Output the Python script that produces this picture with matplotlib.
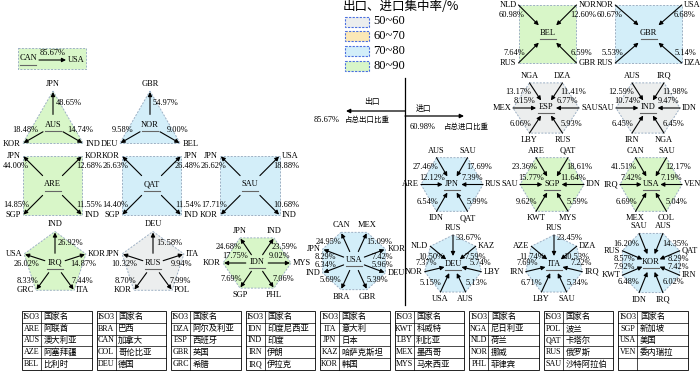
import numpy as np
import matplotlib
matplotlib.use('Agg')
import matplotlib.pyplot as plt
from matplotlib.patches import Polygon, Rectangle

# ------------------------------------------------------------------ data
export_countries = ['CAN', 'AUS', 'NOR', 'ARE', 'QAT', 'SAU', 'IRQ', 'RUS', 'IDN', 'USA']
export_partners = [
    ['USA'],
    ['JPN', 'IND', 'KOR'],
    ['GBR', 'BEL', 'DEU'],
    ['JPN', 'KOR', 'IND', 'SGP'],
    ['KOR', 'JPN', 'IND', 'SGP'],
    ['JPN', 'USA', 'IND', 'KOR'],
    ['IND', 'KOR', 'ITA', 'GRC', 'USA'],
    ['DEU', 'ITA', 'POL', 'KOR', 'JPN'],
    ['JPN', 'IND', 'MYS', 'PHL', 'SGP', 'KOR'],
    ['CAN', 'MEX', 'KOR', 'DEU', 'GBR', 'BRA', 'IND', 'JPN'],
]
export_shares = [
    [85.67],
    [48.65, 14.74, 18.48],
    [54.97, 9.00, 9.58],
    [44.00, 12.68, 11.55, 14.85],
    [26.63, 26.48, 11.54, 14.40],
    [26.62, 18.88, 10.68, 17.71],
    [26.92, 14.87, 7.44, 8.33, 26.02],
    [15.58, 9.94, 7.99, 8.70, 10.32],
    [24.68, 23.59, 9.02, 7.06, 7.69, 17.75],
    [24.95, 15.09, 7.42, 5.96, 5.39, 5.69, 6.34, 8.29],
]
import_countries = ['BEL', 'GBR', 'ESP', 'IND', 'JPN', 'SGP', 'USA', 'DEU', 'ITA', 'KOR']
import_partners = [
    ['NLD', 'NOR', 'GBR', 'RUS'],
    ['NOR', 'USA', 'DZA', 'RUS'],
    ['NGA', 'DZA', 'SAU', 'RUS', 'LBY', 'MEX'],
    ['AUS', 'IRQ', 'IDN', 'NGA', 'IRN', 'SAU'],
    ['AUS', 'SAU', 'RUS', 'QAT', 'IDN', 'ARE'],
    ['ARE', 'QAT', 'IDN', 'MYS', 'KWT', 'SAU'],
    ['CAN', 'SAU', 'VEN', 'COL', 'MEX', 'IRQ'],
    ['RUS', 'KAZ', 'LBY', 'AUS', 'USA', 'NOR', 'NLD'],
    ['RUS', 'DZA', 'IRQ', 'SAU', 'LBY', 'IRN', 'AZE'],
    ['SAU', 'AUS', 'QAT', 'IRN', 'IRQ', 'IDN', 'KWT', 'RUS'],
]
import_shares = [
    [60.98, 12.60, 6.59, 7.64],
    [60.67, 6.68, 5.14, 5.53],
    [13.17, 11.41, 6.77, 5.93, 6.06, 8.15],
    [12.59, 11.98, 9.47, 6.45, 6.45, 10.74],
    [27.46, 17.69, 7.39, 5.99, 6.54, 12.12],
    [23.36, 18.61, 11.64, 5.59, 9.62, 15.77],
    [41.51, 12.17, 7.19, 5.04, 6.69, 7.42],
    [33.67, 7.59, 5.74, 5.13, 5.15, 7.37, 10.50],
    [23.45, 10.53, 7.22, 5.34, 6.71, 7.69, 11.74],
    [16.20, 14.35, 8.29, 7.42, 6.02, 6.48, 7.92, 8.57],
]
class_labels = ['50~60', '60~70', '70~80', '80~90']
class_edges = [50, 60, 70, 80, 90]
legend_title = '出口、进口集中率/%'

table_iso3 = [
    ['ARE', 'AUS', 'AZE', 'BEL'], ['BRA', 'CAN', 'COL', 'DEU'],
    ['DZA', 'ESP', 'GBR', 'GRC'], ['IDN', 'IND', 'IRN', 'IRQ'],
    ['ITA', 'JPN', 'KAZ', 'KOR'], ['KWT', 'LBY', 'MEX', 'MYS'],
    ['NGA', 'NLD', 'NOR', 'PHL'], ['POL', 'QAT', 'RUS', 'SAU'],
    ['SGP', 'USA', 'VEN', ''],
]
table_names = [
    ['阿联酋', '澳大利亚', '阿塞拜疆', '比利时'], ['巴西', '加拿大', '哥伦比亚', '德国'],
    ['阿尔及利亚', '西班牙', '英国', '希腊'], ['印度尼西亚', '印度', '伊朗', '伊拉克'],
    ['意大利', '日本', '哈萨克斯坦', '韩国'], ['科威特', '利比亚', '墨西哥', '马来西亚'],
    ['尼日利亚', '荷兰', '挪威', '菲律宾'], ['波兰', '卡塔尔', '俄罗斯', '沙特阿拉伯'],
    ['新加坡', '美国', '委内瑞拉', ''],
]

# ------------------------------------------------------------------ layout (pixels)
class_colors = ['#eceeee', '#fce8b6', '#d3eef9', '#d8f6c8']
EDGE = '#9db0c4'
# centre x, centre y, radius x, radius y, angle of first vertex
export_layout = [
    None,
    (53, 126, 35, 35, 90),
    (150, 126, 35, 35, 90),
    (52.5, 185.5, 42.4, 42.4, 135),
    (151.5, 185.5, 42.4, 42.4, 135),
    (250, 185.5, 42.4, 42.4, 135),
    (55, 264, 32.5, 32.5, 90),
    (153, 264, 32.5, 32.5, 90),
    (257, 263, 34, 29, 120),
    (354, 261, 34, 31, 112.5),
]
import_layout = [
    (547.5, 34, 41, 41, 135),
    (648.5, 34, 47, 41, 135),
    (546, 108, 33, 29, 120),
    (648, 108, 32, 29, 120),
    (452, 184.5, 31, 31, 120),
    (552, 184.5, 32, 31, 120),
    (651, 184.5, 31, 31, 120),
    (453, 265, 29, 30, 90),
    (554, 265, 29, 30, 90),
    (651, 263, 31, 32, 112.5),
]

LAT = ['Liberation Serif', 'Noto Sans CJK SC']
CJK = ['Noto Sans CJK SC', 'Liberation Serif']
FS_LAB = 6.0
FS_PCT = 6.0

fig = plt.figure(figsize=(7.0, 3.72), dpi=100)
ax = fig.add_axes([0, 0, 1, 1])
ax.set_xlim(0, 700)
ax.set_ylim(372, 0)
ax.axis('off')


def class_color(total):
    idx = int(np.searchsorted(class_edges, total, side='right')) - 1
    idx = min(max(idx, 0), len(class_colors) - 1)
    return class_colors[idx]


def arrow(x0, y0, x1, y1, lw=0.8, ms=6):
    ax.annotate('', xy=(x1, y1), xytext=(x0, y0),
                arrowprops=dict(arrowstyle='-|>', color='k', lw=lw,
                                mutation_scale=ms, shrinkA=0, shrinkB=0),
                zorder=4)


def txt(x, y, s, ha='center', fs=FS_LAB, fam=LAT):
    ax.text(x, y, s, ha=ha, va='center', fontsize=fs, family=fam, zorder=5)


def centre_label(x, y, name):
    txt(x, y - 1, name)
    ax.plot([x - 8, x + 8], [y + 5, y + 5], color='#666666', lw=0.8, zorder=5)


def draw_node(name, partners, shares, lay, outward):
    cx, cy, rx, ry, a0 = lay
    n = len(partners)
    ang = np.radians(a0 - np.arange(n) * 360.0 / n)
    vx = cx + rx * np.cos(ang)
    vy = cy - ry * np.sin(ang)
    ax.add_patch(Polygon(np.c_[vx, vy], closed=True, fc=class_color(sum(shares)),
                         ec=EDGE, lw=0.7, ls=(0, (2, 1.5)), zorder=1))
    centre_label(cx, cy, name)
    t_in, t_out = (0.33, 0.97) if outward else (0.3, 1.0)
    for k in range(n):
        c, s = np.cos(ang[k]), np.sin(ang[k])
        dx, dy = vx[k] - cx, vy[k] - cy
        ix, iy = cx + t_in * dx, cy + t_in * dy
        ox, oy = cx + t_out * dx, cy + t_out * dy
        if outward:
            arrow(ix, iy, ox, oy)
        else:
            arrow(ox, oy, ix, iy)
        # partner label
        if abs(s) > 0.85:
            txt(vx[k], vy[k] - 7 * np.sign(s), partners[k])
        elif c > 0:
            txt(vx[k] + 2, vy[k], partners[k], ha='left')
        else:
            txt(vx[k] - 2, vy[k], partners[k], ha='right')
        # share label
        t = 0.65
        if abs(c) < 0.2 and n >= 7:
            t = 0.9
        px, py = cx + t * dx, cy + t * dy
        label = f'{shares[k]:.2f}%'
        if abs(s) < 0.2 and n < 7:
            txt(px, py - 7, label, fs=FS_PCT)
        elif abs(c) < 0.2:
            txt(px + 3, py, label, ha='left', fs=FS_PCT)
        elif abs(s) < 0.68:
            if n == 7:
                off = 4 if s > 0 else -6
                txt(px + 9 * c, py + off, label, fs=FS_PCT)
            elif n > 7:
                txt(px + 9 * c, py + 4 * np.sign(s), label, fs=FS_PCT)
            else:
                txt(px + 9 * c, py + 7 * np.sign(s), label, fs=FS_PCT)
        elif c > 0:
            txt(px + 4, py, label, ha='left', fs=FS_PCT)
        else:
            txt(px - 4, py, label, ha='right', fs=FS_PCT)


# single-partner exporter (CAN) drawn as a box
can_share = export_shares[0][0]
ax.add_patch(Rectangle((18, 48), 68, 21, fc=class_color(can_share), ec=EDGE,
                       lw=0.7, ls=(0, (2, 1.5)), zorder=1))
centre_label(28, 59.5, export_countries[0])
arrow(39, 60, 66, 60)
txt(52.5, 53, f'{can_share:.2f}%', fs=FS_PCT)
txt(68, 59.5, export_partners[0][0], ha='left')

for i in range(1, len(export_countries)):
    draw_node(export_countries[i], export_partners[i], export_shares[i],
              export_layout[i], True)
for i in range(len(import_countries)):
    draw_node(import_countries[i], import_partners[i], import_shares[i],
              import_layout[i], False)

# ------------------------------------------------------------------ legend
ax.text(343, 7, legend_title, ha='left', va='center', fontsize=9, family=CJK)
for j, lab in enumerate(class_labels):
    yy = 21.5 + j * 14.8
    ax.add_patch(Rectangle((345, yy - 5), 24, 10, fc=class_colors[j],
                           ec='#4a6fe0', lw=0.8, ls=(0, (2, 1.2)), zorder=2))
    ax.text(373, yy, lab, ha='left', va='center', fontsize=9, family=LAT)

# ------------------------------------------------------------------ explanatory axes
ax.plot([405, 405], [78, 305], color='k', lw=0.9)
arrow(405, 111, 346, 111, lw=0.9)
arrow(405, 116, 464, 116, lw=0.9)
txt(372, 102, '出口', fs=5.6, fam=CJK)
txt(423, 108.5, '进口', fs=5.6, fam=CJK)
txt(327, 120, f'{export_shares[0][0]:.2f}%', fs=6.0)
txt(367, 120, '占总出口比重', fs=5.4, fam=CJK)
txt(423, 127, f'{import_shares[0][0]:.2f}%', fs=6.0)
txt(466, 127, '占总进口比重', fs=5.4, fam=CJK)

# ------------------------------------------------------------------ table
tx0, tx1 = 22, 688
ty0, row_h = 311, 11.8
nb = len(table_iso3)
gap = 5
bw = (tx1 - tx0 - gap * (nb - 1)) / nb
iso_w = 19
nrows = 5
for b in range(nb):
    x0 = tx0 + b * (bw + gap)
    ax.add_patch(Rectangle((x0, ty0), bw, row_h * nrows, fc='none', ec='k',
                           lw=0.6, zorder=3))
    for r in range(1, nrows):
        ax.plot([x0, x0 + bw], [ty0 + r * row_h] * 2, color='k', lw=0.5, zorder=3)
    ax.plot([x0 + iso_w, x0 + iso_w], [ty0, ty0 + row_h * nrows], color='k',
            lw=0.5, zorder=3)
    rows_iso = ['ISO3'] + table_iso3[b]
    rows_nm = ['国家名'] + table_names[b]
    for r in range(nrows):
        yy = ty0 + (r + 0.5) * row_h
        txt(x0 + iso_w / 2, yy, rows_iso[r], fs=5.8)
        txt(x0 + iso_w + 2.5, yy, rows_nm[r], ha='left', fs=6.0, fam=CJK)

fig.savefig('out.png', dpi=100)
